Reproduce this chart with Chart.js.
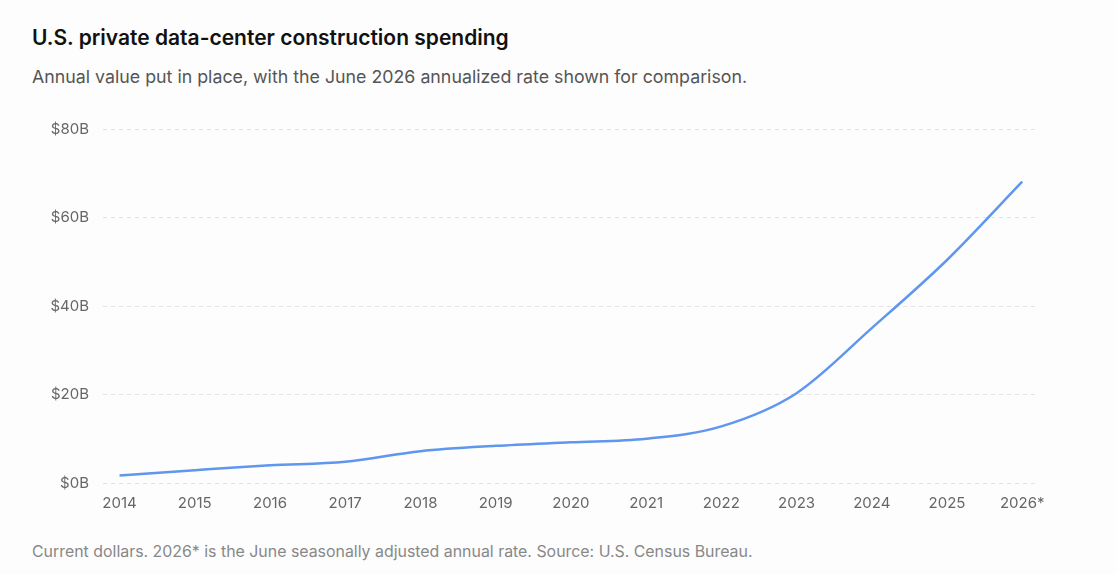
<!DOCTYPE html>
<html>
<head>
<meta charset="utf-8">
<script src="https://cdn.jsdelivr.net/npm/chart.js@4"></script>
<style>
  html, body { margin: 0; padding: 0; background: #fdfdfd; }
  body { width: 1116px; height: 574px; position: relative; font-family: Inter, "Noto Sans", sans-serif; overflow: hidden; }
  .title, .subtitle, .note { position: absolute; left: 32px; line-height: 1; white-space: nowrap; }
  .title { top: 27px; font-size: 21px; font-weight: 600; color: #111; }
  .subtitle { top: 68px; font-size: 17.8px; color: #555; }
  .note { top: 544px; font-size: 15.9px; color: #888; }
  .wrap { position: absolute; left: 0; top: 110px; width: 1116px; height: 413px; }
</style>
</head>
<body>
<div class="title">U.S. private data-center construction spending</div>
<div class="subtitle">Annual value put in place, with the June 2026 annualized rate shown for comparison.</div>
<div class="wrap"><canvas id="chart"></canvas></div>
<div class="note">Current dollars. 2026* is the June seasonally adjusted annual rate. Source: U.S. Census Bureau.</div>

<script>
// years on the x axis (last one is the June annualized rate)
const years = ['2014', '2015', '2016', '2017', '2018', '2019', '2020', '2021', '2022', '2023', '2024', '2025', '2026*'];
// spending, billions of dollars
const spending = [1.7, 2.9, 4.0, 4.8, 7.2, 8.4, 9.2, 10.0, 12.8, 20.3, 35.0, 50.4, 68.1];
const yTicks = [0, 20, 40, 60, 80];

const points = spending.map((v, i) => ({ x: i, y: v }));

const ctx = document.getElementById('chart').getContext('2d');
new Chart(ctx, {
  type: 'line',
  data: {
    datasets: [{
      data: points,
      borderColor: '#5f96ee',
      borderWidth: 2.5,
      pointRadius: 0,
      cubicInterpolationMode: 'monotone',
      fill: false
    }]
  },
  options: {
    responsive: true,
    maintainAspectRatio: false,
    animation: false,
    layout: { padding: { top: 19, right: 81, left: 0, bottom: 0 } },
    plugins: { legend: { display: false }, tooltip: { enabled: false } },
    scales: {
      x: {
        type: 'linear',
        min: -0.22,
        max: years.length - 1 + 0.17,
        afterBuildTicks: scale => { scale.ticks = years.map((_, i) => ({ value: i })); },
        afterFit: scale => {
          scale.height = 40;
          scale.paddingLeft = 0;
          scale.paddingRight = 0;
        },
        grid: { display: false, drawTicks: false },
        border: { display: false },
        ticks: {
          callback: v => years[v],
          color: '#666',
          font: { family: 'Inter', size: 15 },
          padding: 11,
          maxRotation: 0,
          autoSkip: false
        }
      },
      y: {
        min: 0,
        max: 80,
        afterBuildTicks: scale => { scale.ticks = yTicks.map(v => ({ value: v })); },
        afterFit: scale => {
          scale.width = 103;
          scale.paddingTop = 0;
          scale.paddingBottom = 0;
        },
        grid: { color: '#e3e3e3', drawTicks: false, lineWidth: 1 },
        border: { display: false, dash: [4, 4] },
        ticks: {
          callback: v => '$' + v + 'B',
          color: '#666',
          font: { family: 'Inter', size: 15 },
          padding: 14
        }
      }
    }
  }
});
</script>
</body>
</html>
